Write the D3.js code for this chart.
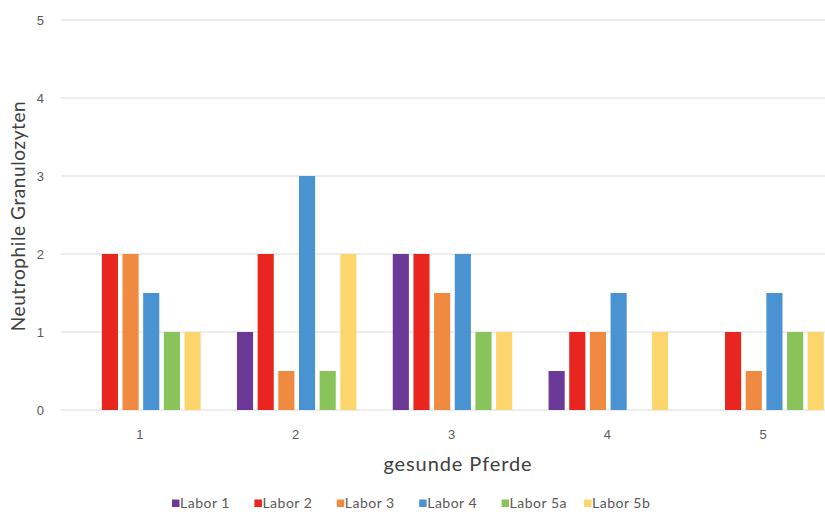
<!DOCTYPE html>
<html>
<head>
<meta charset="utf-8">
<script src="https://cdn.jsdelivr.net/npm/d3@7"></script>
<style>
  html, body { margin: 0; padding: 0; background: #fff; }
  svg { display: block; font-family: Lato, "Open Sans", sans-serif; }
</style>
</head>
<body>
<svg id="chart" width="825" height="515"></svg>
<script>
// Horses (x categories) and lab series
const horses = ["1", "2", "3", "4", "5"];
const labs = ["Labor 1", "Labor 2", "Labor 3", "Labor 4", "Labor 5a", "Labor 5b"];
const labColors = ["#6b3a98", "#e8251f", "#f08a40", "#4a93d3", "#88c45a", "#fcd56d"];

// Neutrophil scores per lab, one value per horse (null = no bar)
const labor1  = [null, 1, 2, 0.5, null];
const labor2  = [2, 2, 2, 1, 1];
const labor3  = [2, 0.5, 1.5, 1, 0.5];
const labor4  = [1.5, 3, 2, 1.5, 1.5];
const labor5a = [1, 0.5, 1, null, 1];
const labor5b = [1, 2, 1, 1, 1];
const seriesValues = [labor1, labor2, labor3, labor4, labor5a, labor5b];

const yTicks = [0, 1, 2, 3, 4, 5];

const svg = d3.select("#chart");
const plot = { left: 63, right: 842, top: 20, bottom: 410 };

const x0 = d3.scaleBand().domain(horses).range([plot.left, plot.right]);
const clusterWidth = 124;
const x1 = d3.scaleBand().domain(labs).range([0, clusterWidth]).paddingInner(0.22).paddingOuter(0.11);
const y = d3.scaleLinear().domain([0, 5]).range([plot.bottom, plot.top]);

// Horizontal gridlines
svg.append("g")
  .selectAll("line")
  .data(yTicks)
  .join("line")
  .attr("x1", plot.left - 2)
  .attr("x2", plot.right)
  .attr("y1", d => y(d))
  .attr("y2", d => y(d))
  .attr("stroke", "#dcdcdc")
  .attr("stroke-width", 1);

// Y axis labels
const yAxis = d3.axisLeft(y).tickValues(yTicks).tickSize(0).tickPadding(0).tickFormat(d3.format("d"));
svg.append("g")
  .attr("transform", `translate(${plot.left - 19},0)`)
  .call(yAxis)
  .call(g => g.select(".domain").remove())
  .call(g => g.selectAll("text").attr("fill", "#595959").attr("font-size", 13));

// X axis labels
const xAxis = d3.axisBottom(x0).tickSize(0).tickPadding(0);
svg.append("g")
  .attr("transform", `translate(${-1},${plot.bottom + 20})`)
  .call(xAxis)
  .call(g => g.select(".domain").remove())
  .call(g => g.selectAll("text").attr("fill", "#595959").attr("font-size", 13));

// Bars
const rows = horses.map((h, i) => ({ horse: h, vals: labs.map((l, j) => ({ lab: l, v: seriesValues[j][i], c: labColors[j] })) }));
const groups = svg.append("g")
  .selectAll("g")
  .data(rows)
  .join("g")
  .attr("transform", d => `translate(${x0(d.horse) + (x0.bandwidth() - clusterWidth) / 2},0)`);

groups.selectAll("rect")
  .data(d => d.vals.filter(e => e.v != null))
  .join("rect")
  .attr("x", d => x1(d.lab))
  .attr("width", x1.bandwidth())
  .attr("y", d => y(d.v))
  .attr("height", d => y(0) - y(d.v))
  .attr("fill", d => d.c);

// Axis titles
svg.append("text")
  .attr("transform", `translate(25,216) rotate(-90)`)
  .attr("text-anchor", "middle")
  .attr("fill", "#404040")
  .attr("font-size", 19)
  .attr("letter-spacing", 0.6)
  .text("Neutrophile Granulozyten");

svg.append("text")
  .attr("x", 458)
  .attr("y", 471)
  .attr("text-anchor", "middle")
  .attr("fill", "#404040")
  .attr("font-size", 20)
  .attr("letter-spacing", 0.9)
  .text("gesunde Pferde");

// Legend
const legendX = d3.scalePoint().domain(labs).range([172, 584]);
const legend = svg.append("g")
  .selectAll("g")
  .data(labs)
  .join("g")
  .attr("transform", d => `translate(${legendX(d)},508)`);
legend.append("rect")
  .attr("x", 0).attr("y", -8.5).attr("width", 7.5).attr("height", 7.5)
  .attr("fill", (d, i) => labColors[i]);
legend.append("text")
  .attr("x", 8).attr("y", 0)
  .attr("fill", "#595959")
  .attr("font-size", 14)
  .attr("letter-spacing", 0.5)
  .text(d => d);
</script>
</body>
</html>
